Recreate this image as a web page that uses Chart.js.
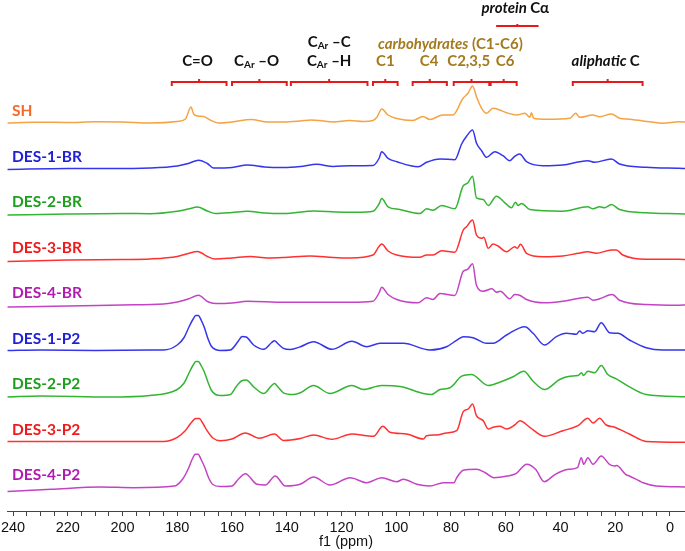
<!DOCTYPE html>
<html lang="en">
<head>
<meta charset="UTF-8">
<title>13C CP/MAS NMR spectra</title>
<script src="https://cdn.jsdelivr.net/npm/chart.js"></script>
<style>
  html, body { margin: 0; padding: 0; background: #fff; }
  canvas { display: block; }
</style>
</head>
<body>
<canvas id="nmr" width="685" height="551"></canvas>
<script>
// ---- data: [ppm, intensity above own baseline] ----
const seriesNames = ['SH', 'DES-1-BR', 'DES-2-BR', 'DES-3-BR', 'DES-4-BR',
                     'DES-1-P2', 'DES-2-P2', 'DES-3-P2', 'DES-4-P2'];

const SH = [[242,0],[232,0.8],[220,0.5],[210,1.2],[200,1],[190,0],[180,1.5],[177,4],[175,16],[174,9],[172.5,7],
  [170.4,6.5],[168,3],[165,0],[160,1],[153,3.5],[147,1],[141,1],[135,2],[131,3],[128,2.5],[123,1],[117,2.5],
  [112,1.5],[108.5,2.5],[107,6],[105.3,14],[103,8],[99.8,4.5],[94,2.5],[90.2,6.5],[87.7,3.5],[83,8],[79.3,8],
  [75.6,24.7],[73.8,29.7],[72.1,37],[70.7,26.3],[68.8,14.7],[67,9.7],[64.7,14.7],[62.2,13],[59.7,10.3],[56,8],
  [53,9.7],[51.2,5.7],[50.6,10.3],[49.8,4.7],[45,3.7],[36.6,4.7],[34.4,9.7],[33,5.7],[28.2,8],[25.7,6.3],
  [21.4,9],[18.4,4.7],[14.8,3.7],[7.5,1.3],[2.7,-0.3],[-3.5,1.3],[-5.5,1]];

const DES1BR = [[242,-1],[220,0],[205,0],[190,0.5],[180,2.5],[176,5],[172.2,8.3],[169,5],[166.8,0.5],[160,1],
  [154.4,3.5],[148,1.5],[141.3,1],[135,2],[129,4.2],[123,2],[116.8,2.8],[108.5,3],[106.3,10],[105.3,16.8],[103,10.2],
  [99.8,6.8],[92,1.8],[88.9,6.2],[84,9.5],[78.6,8.8],[76.1,24.5],[74.3,32.2],[72.1,38.5],[70.7,25.5],[68.8,17.8],
  [67,11.2],[64,16.8],[61,12.8],[58.5,7.8],[56.7,12.2],[54.9,14.5],[52.4,6.8],[46.4,2.8],[39.1,3.5],[33,6.8],
  [30,7.8],[27.5,6.2],[21.4,9.5],[18.4,4.5],[8.7,1.2],[-3.5,0.2],[-5.5,0]];

const DES2BR = [[242,-1],[220,0],[200,0.5],[190,0.3],[180,2.8],[176,5],[172.6,7],[169,3],[166,0.5],[160,1.5],
  [154.4,2.8],[148,1],[141,0.5],[130,3],[122,2],[114.4,1.8],[108.5,2.8],[106.3,10],[105.3,15.5],[103,7.2],[98.7,4.5],
  [91.4,0.5],[88.9,5.2],[86.6,3.8],[83.4,8.5],[78.6,5.2],[75.6,27.8],[73.8,31.2],[72.1,37.8],[70.7,16.2],[68.2,14.5],
  [66.4,8.5],[63.4,17.8],[60.3,11.2],[57.9,6.2],[56.4,11.8],[55.5,8.5],[54.2,10.5],[51.2,4.5],[39.2,2.8],[30,7.2],
  [28.1,5.2],[25.7,7.2],[23.9,6.2],[21.4,9.5],[18.4,4.5],[8.7,1.2],[-3.5,0.2],[-5.5,0]];

const DES3BR = [[242,-2],[220,-0.5],[200,0],[190,0.5],[180,3],[176,6],[172.6,8],[169,3],[166,0.5],[160,1.5],
  [153.3,3],[147,1.5],[141,2],[131.4,3.5],[123,2],[116.8,1.5],[108.5,4.5],[106.3,13],[105.3,15.5],[103,8.5],[99.8,4.5],
  [91.4,2.2],[88.9,4.5],[86.6,4.5],[83.4,8.8],[78.6,7.2],[75.5,29.5],[74.3,32.8],[72.1,39.5],[70.7,24.5],[68.8,21.2],
  [68,22.2],[66.4,11.2],[64.6,15.5],[62.8,13.5],[59.7,7.8],[56.7,12.8],[55.8,11.2],[54.6,15.2],[52.4,6.2],[46.4,2.8],
  [39.1,3.5],[33.6,6.2],[30,7.8],[26.9,6.2],[21.4,9.5],[19.6,9.5],[17.2,4.5],[8.7,0.2],[-3.5,0.2],[-5.5,0]];

const DES4BR = [[242,-2],[220,-1],[200,0],[185,1],[180,3],[176,6],[172.2,9.8],[169,3.5],[166,1.5],[160,2],
  [154.4,3.8],[141,2.8],[130,2.8],[117,2.8],[108.5,3.8],[106.3,12],[105.3,17.8],[103,10.5],[99.8,5.5],[92,2.2],
  [88.9,7.2],[86.6,5.5],[84,11.5],[78.6,9.5],[75.5,33.8],[74,35.5],[72.1,41.2],[70.7,19.8],[68.2,13.8],[65,16.2],
  [63.4,12.8],[62,13.8],[58.5,6.2],[56.7,10.5],[54.9,9.8],[52.4,5.5],[45.8,2.2],[39.1,3.8],[33.6,6.5],[30,7.8],
  [28.1,4.8],[25.7,6.2],[21.1,10.5],[18.4,4.8],[8.7,0.5],[-3.5,-0.2],[-5.5,0]];

const DES1P2 = [[242,0],[230,0.5],[210,0],[190,0.5],[185,0.5],[180,5.5],[177.5,13],[175.8,23],[174.3,31],
  [173.2,35],[172.3,35],[171.2,30],[170.1,23],[168.8,12],[167.6,4.5],[166,1],[164.2,0],[160.6,0.5],[157.8,9],[156.3,14],
  [154.8,13.5],[152.1,5.5],[148.4,1.2],[145.5,8],[144.5,9.8],[143.3,7],[141.2,2.2],[138.7,1],[135,3.8],[130.2,8.8],
  [123.5,1.2],[116.2,9.2],[110.8,3.8],[105.9,7.2],[97.4,7.2],[87.7,0.5],[81.6,3.8],[77.4,11.2],[75.5,13.8],[71.9,12.8],
  [67,7.2],[64.6,7.2],[59.7,15.5],[53,23.8],[50,17.2],[45.8,5.5],[41.5,13.8],[37.8,17.2],[34.2,16.2],[33,19.5],
  [31.8,17.2],[30,19.8],[27.5,18.8],[25.1,27.8],[22.1,17.8],[19,17.2],[14.8,10.5],[8.7,2.8],[2.6,0.5],[-5.5,0.5]];

const DES2P2 = [[242,-1],[230,0],[205,-1],[190,0.5],[180,6.5],[177.5,13],[175.8,22.5],[174.3,30.5],[173.2,34.5],
  [172.3,34.5],[171.2,30],[170.1,24],[168.8,14],[167.6,6],[166,1.5],[164.2,0.5],[160.6,1.5],[158.3,10],[156.6,15],
  [154.8,16],[152.1,9.2],[148.4,2.5],[145.5,10.5],[144.5,12.5],[143.2,9],[141.2,3.2],[137.5,1.5],[135,3.2],[130.2,10.5],
  [124.2,2.5],[116.2,10.5],[112,6.5],[105.3,10.5],[98,9.2],[90.1,2.5],[87.1,1.5],[84,6.5],[80.4,8.2],[76.1,19.8],
  [72.5,21.5],[66.4,10.5],[62.2,13.8],[57.3,19.2],[53.4,24.8],[50,14.8],[45.8,6.5],[40.3,16.5],[36.6,19.8],[33.6,20.5],
  [32.3,23.2],[31.6,20.5],[30,24.8],[27.5,23.2],[25.1,30.5],[22.7,21.5],[19.6,17.2],[14.8,9.2],[8.7,1.5],[-5.5,-0.8]];

const DES3P2 = [[242,0],[200,0],[185,0],[180,4.2],[177,11],[175,18.5],[173.2,23],[172,23],[170.4,17],[169.1,10.8],
  [167,3.5],[164.2,0.8],[160,2.5],[155.1,8.5],[150,3.2],[144.5,7.5],[141.2,1],[135,3],[130.2,6.5],[123.5,2.2],
  [116.2,7.5],[110.8,5.8],[108.3,5.2],[104.9,15.2],[102.3,9.2],[96.2,7.5],[90.1,2.5],[88.9,5.8],[85.2,6.5],[81.6,8.5],
  [77.9,10.8],[75.5,29.8],[73.7,32.5],[72.1,37.5],[70.7,25.8],[68.2,20.8],[66.4,12.5],[64.6,14.2],[62.2,15.2],
  [59.7,12.5],[56.7,16.5],[54.8,20.8],[51.2,14.2],[45.8,5.2],[39.1,10.8],[33.6,15.8],[30,23.2],[28.1,18.5],[25.7,23.2],
  [23.3,16.5],[20.2,14.2],[14.8,7.5],[8.7,0],[-5.5,-0.8]];

const DES4P2 = [[242,-4.5],[226,-2.3],[208,0],[196,-0.7],[181,1],[178,8],[176,18],[174.5,28],[173.4,32.7],
  [172.4,32.7],[171.2,27],[170,20],[168.5,9],[167,2.5],[164.2,0.5],[160,1],[157.6,8],[155.1,13.3],[150.9,2.7],
  [147.8,2],[144.2,11],[140.5,1],[135.1,2.7],[130.2,10],[124.2,2],[116.8,9.3],[110.8,4.3],[105.3,9.3],[99.8,5.3],
  [97.4,7.7],[92.5,2.7],[87.7,1],[82.8,4.3],[78.9,4.3],[77.9,9.3],[75.5,16.7],[70.7,17.7],[67.5,14.3],[64.3,9.3],
  [59.5,11],[56.3,13.3],[52.3,22.7],[49.1,17.7],[45.9,5.3],[41.9,12.7],[37,17.7],[33.8,19.3],[32.4,29.3],[31.5,22.7],
  [30,29.3],[28.1,22.7],[25.1,31],[22.1,22.7],[20.2,21],[19.5,21.5],[16.2,12.7],[14.8,11],[11.1,6],[9.8,4.3],[5,1],
  [-5.5,0]];

const spectra = [SH, DES1BR, DES2BR, DES3BR, DES4BR, DES1P2, DES2P2, DES3P2, DES4P2];

// x axis ticks
const tickLabels = [240, 220, 200, 180, 160, 140, 120, 100, 80, 60, 40, 20, 0];
const minorStep = 5;

// assignment groups shown above the spectra (ppm ranges and label centres)
const groupNames = ['C=O', 'CAr–O', 'CAr–C/CAr–H', 'C1', 'C4', 'C2,3,5', 'C6', 'protein Cα', 'aliphatic C'];
const groupFrom  = [182, 160, 138.5, 108.5, 94, 79, 65.5, 63.5, 35.5];
const groupTo    = [162, 140, 110.5,  99.5, 81.5, 66, 56, 48, 10];
const groupLabelAt = [172.6, 151, 124.5, 104, 88, 73.5, 60.2, 56.5, 23.5];

// ---- styling ----
const lineColors  = ['#F5A343', '#3535EE', '#33B533', '#FF3030', '#C443C4', '#3535EE', '#33B533', '#FF3030', '#C443C4'];
const labelColors = ['#F26A2C', '#2020D8', '#1E9E1E', '#F01A1A', '#B01CB0', '#2020D8', '#1E9E1E', '#F01A1A', '#B01CB0'];
const GAP = 45.5, BASE = 2;
const offsetOf = i => BASE + (spectra.length - 1 - i) * GAP;
const axisFont = { family: "'Liberation Sans', Arial, sans-serif", size: 14.5, lineHeight: 1 };

const datasets = spectra.map((s, i) => ({
  label: seriesNames[i],
  data: s.map(p => ({ x: p[0], y: p[1] + offsetOf(i) })),
  borderColor: lineColors[i],
  borderWidth: 1.5,
  pointRadius: 0,
  fill: false,
  cubicInterpolationMode: 'monotone'
}));

const BRACKET = '#E81818';
const BROWN = '#A47A1E';
const INK = '#111111';

function drawRuns(ctx, runs, cx, cy) {
  let w = 0;
  runs.forEach(r => { ctx.font = r.font; w += ctx.measureText(r.text).width; });
  let x = cx - w / 2;
  runs.forEach(r => {
    ctx.font = r.font;
    ctx.fillStyle = r.color;
    ctx.fillText(r.text, x, cy + (r.dy || 0));
    x += ctx.measureText(r.text).width;
  });
}

const annotations = {
  id: 'annotations',
  afterDraw(chart) {
    const ctx = chart.ctx;
    const xs = chart.scales.x, ys = chart.scales.y;
    const B = 'bold 15px Lato', BI = 'italic bold 15px Lato', S = 'bold 10px Lato';
    ctx.save();
    ctx.textBaseline = 'middle';

    // sample names
    ctx.textAlign = 'left';
    ctx.font = 'bold 15.5px Lato';
    seriesNames.forEach((n, i) => {
      ctx.fillStyle = labelColors[i];
      ctx.fillText(n, 12, ys.getPixelForValue(offsetOf(i) + 12));
    });

    // brackets
    ctx.strokeStyle = BRACKET;
    ctx.lineWidth = 2;
    groupNames.forEach((g, i) => {
      const x1 = xs.getPixelForValue(groupFrom[i]);
      const x2 = xs.getPixelForValue(groupTo[i]);
      const xm = (x1 + x2) / 2;
      ctx.beginPath();
      if (g === 'protein Cα') {
        ctx.moveTo(x1, 26); ctx.lineTo(x2, 26);
        ctx.moveTo(xm, 26); ctx.lineTo(xm, 24);
      } else {
        ctx.moveTo(x1, 86); ctx.lineTo(x1, 82); ctx.lineTo(x2, 82); ctx.lineTo(x2, 86);
        ctx.moveTo(xm, 82); ctx.lineTo(xm, 79);
      }
      ctx.stroke();
    });

    // group labels
    const cx = i => xs.getPixelForValue(groupLabelAt[i]);
    drawRuns(ctx, [{ text: 'C=O', font: B, color: INK }], cx(0), 61);
    drawRuns(ctx, [{ text: 'C', font: B, color: INK }, { text: 'Ar', font: S, color: INK, dy: 4 },
                   { text: ' –O', font: B, color: INK }], cx(1), 61);
    drawRuns(ctx, [{ text: 'C', font: B, color: INK }, { text: 'Ar', font: S, color: INK, dy: 4 },
                   { text: ' –C', font: B, color: INK }], cx(2), 42);
    drawRuns(ctx, [{ text: 'C', font: B, color: INK }, { text: 'Ar', font: S, color: INK, dy: 4 },
                   { text: ' –H', font: B, color: INK }], cx(2), 61);
    [3, 4, 5, 6].forEach(i => drawRuns(ctx, [{ text: groupNames[i], font: B, color: BROWN }], cx(i), 61));
    drawRuns(ctx, [{ text: 'carbohydrates', font: BI, color: BROWN },
                   { text: ' (C1-C6)', font: B, color: BROWN }], xs.getPixelForValue(80.2), 44);
    drawRuns(ctx, [{ text: 'protein ', font: BI, color: INK }, { text: 'Cα', font: B, color: INK }], cx(7), 8);
    drawRuns(ctx, [{ text: 'aliphatic ', font: BI, color: INK }, { text: 'C', font: B, color: INK }], cx(8), 61);

    // x axis title
    ctx.textAlign = 'center';
    ctx.textBaseline = 'alphabetic';
    ctx.fillStyle = '#111';
    ctx.font = "14.5px 'Liberation Sans', Arial, sans-serif";
    ctx.fillText('f1 (ppm)', (chart.chartArea.left + chart.chartArea.right) / 2, 546);
    ctx.restore();
  }
};

new Chart(document.getElementById('nmr'), {
  type: 'line',
  data: { datasets },
  plugins: [annotations],
  options: {
    responsive: false,
    animation: false,
    devicePixelRatio: 1,
    layout: { padding: { left: 7, right: 0, top: 0, bottom: 0 } },
    plugins: { legend: { display: false }, tooltip: { enabled: false } },
    scales: {
      x: {
        type: 'linear',
        reverse: true,
        min: -5.5,
        max: 242.2,
        afterBuildTicks: scale => {
          const t = [];
          for (let v = 0; v <= tickLabels[0]; v += minorStep) t.push({ value: v });
          scale.ticks = t;
        },
        afterFit: scale => { scale.height = 40; },
        grid: { drawOnChartArea: false, drawTicks: true, tickLength: 5, tickColor: '#444' },
        border: { display: true, color: '#444', width: 1 },
        ticks: {
          autoSkip: false,
          maxRotation: 0,
          padding: 5,
          color: '#111',
          font: axisFont,
          callback: v => tickLabels.includes(v) ? String(v) : ''
        },
        title: { display: false }
      },
      y: { display: false, min: -22, max: 489 }
    }
  }
});
</script>
</body>
</html>
